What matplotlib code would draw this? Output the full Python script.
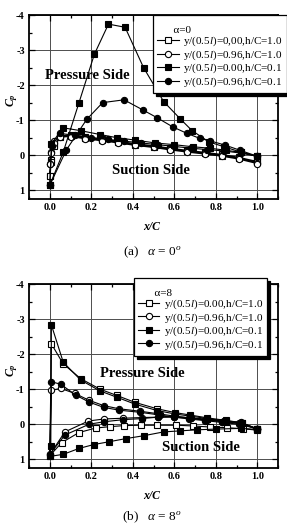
import numpy as np
import matplotlib
matplotlib.use("Agg")
import matplotlib.pyplot as plt
from matplotlib.ticker import MultipleLocator

plt.rcParams['font.family'] = ['Liberation Serif', 'DejaVu Serif']
plt.rcParams['mathtext.fontset'] = 'custom'
plt.rcParams['mathtext.rm'] = 'Liberation Serif'
plt.rcParams['mathtext.it'] = 'Liberation Serif:italic'
plt.rcParams['mathtext.bf'] = 'Liberation Serif:italic:bold'

# ---------------- data: alpha = 0 ----------------
a0_os_up_x = [0.0, 0.005, 0.02, 0.05, 0.1, 0.17, 0.25, 0.33, 0.41, 0.5, 0.58, 0.66, 0.75, 0.83, 0.91, 1.0]
a0_os_up_cp = [0.6, 0.15, -0.3, -0.55, -0.58, -0.53, -0.46, -0.4, -0.33, -0.27, -0.2, -0.14, -0.08, -0.02, 0.06, 0.18]
a0_os_lo_x = [0.0, 0.005, 0.02, 0.05, 0.1, 0.17, 0.25, 0.33, 0.41, 0.5, 0.58, 0.66, 0.75, 0.83, 0.91, 1.0]
a0_os_lo_cp = [0.6, 0.2, -0.25, -0.52, -0.55, -0.5, -0.43, -0.37, -0.3, -0.24, -0.17, -0.11, -0.05, 0.01, 0.09, 0.2]

a0_oc_up_x = [0.0, 0.005, 0.02, 0.05, 0.1, 0.17, 0.25, 0.33, 0.41, 0.5, 0.58, 0.66, 0.75, 0.83, 0.91, 1.0]
a0_oc_up_cp = [0.25, -0.1, -0.4, -0.55, -0.56, -0.5, -0.44, -0.38, -0.31, -0.25, -0.18, -0.12, -0.06, 0.0, 0.08, 0.22]
a0_oc_lo_x = [0.0, 0.005, 0.02, 0.05, 0.1, 0.17, 0.25, 0.33, 0.41, 0.5, 0.58, 0.66, 0.75, 0.83, 0.91, 1.0]
a0_oc_lo_cp = [0.25, -0.05, -0.36, -0.52, -0.53, -0.47, -0.41, -0.35, -0.28, -0.22, -0.15, -0.09, -0.03, 0.03, 0.11, 0.24]

a0_fs_up_x = [0.0, 0.065, 0.14, 0.215, 0.283, 0.363, 0.452, 0.549, 0.63, 0.686, 0.767, 0.84, 0.92, 1.0]
a0_fs_up_cp = [0.86, -0.09, -1.48, -2.88, -3.74, -3.65, -2.5, -1.53, -1.03, -0.7, -0.38, -0.24, -0.09, 0.03]
a0_fs_lo_x = [0.0, 0.008, 0.065, 0.149, 0.242, 0.323, 0.412, 0.508, 0.6, 0.69, 0.77, 0.85, 0.92, 1.0]
a0_fs_lo_cp = [0.86, -0.33, -0.78, -0.7, -0.59, -0.5, -0.43, -0.35, -0.3, -0.24, -0.2, -0.14, -0.08, 0.03]

a0_fc_up_x = [0.0, 0.08, 0.178, 0.255, 0.358, 0.449, 0.517, 0.592, 0.662, 0.723, 0.772, 0.844, 0.917, 1.0]
a0_fc_up_cp = [0.86, -0.15, -1.02, -1.5, -1.58, -1.29, -1.07, -0.81, -0.62, -0.48, -0.41, -0.29, -0.14, 0.03]
a0_fc_lo_x = [0.0, 0.01, 0.048, 0.121, 0.2, 0.28, 0.36, 0.44, 0.52, 0.6, 0.68, 0.76, 0.84, 0.92, 1.0]
a0_fc_lo_cp = [0.86, -0.25, -0.62, -0.57, -0.5, -0.45, -0.4, -0.35, -0.3, -0.25, -0.2, -0.16, -0.12, -0.06, 0.03]

# ---------------- data: alpha = 8 ----------------
a8_os_up_x = [0.008, 0.065, 0.149, 0.242, 0.323, 0.412, 0.517, 0.605, 0.678, 0.76, 0.847, 0.928, 1.0]
a8_os_up_cp = [-2.29, -1.72, -1.3, -1.0, -0.82, -0.62, -0.44, -0.33, -0.26, -0.18, -0.11, -0.04, 0.15]
a8_os_lo_x = [0.0, 0.057, 0.14, 0.221, 0.29, 0.36, 0.44, 0.517, 0.61, 0.69, 0.77, 0.855, 0.93, 1.0]
a8_os_lo_cp = [0.9, 0.53, 0.24, 0.11, 0.07, 0.04, 0.03, 0.03, 0.03, 0.05, 0.08, 0.1, 0.13, 0.17]

a8_oc_up_x = [0.008, 0.053, 0.12, 0.19, 0.26, 0.334, 0.434, 0.533, 0.6, 0.67, 0.75, 0.83, 0.91, 1.0]
a8_oc_up_cp = [-0.97, -1.02, -0.88, -0.68, -0.53, -0.44, -0.37, -0.29, -0.23, -0.18, -0.12, -0.07, -0.02, 0.13]
a8_oc_lo_x = [0.0, 0.073, 0.186, 0.263, 0.355, 0.444, 0.52, 0.6, 0.68, 0.76, 0.84, 0.92, 1.0]
a8_oc_lo_cp = [0.87, 0.22, -0.09, -0.15, -0.17, -0.19, -0.2, -0.2, -0.17, -0.13, -0.09, -0.04, 0.13]

a8_fs_up_x = [0.008, 0.065, 0.149, 0.242, 0.323, 0.412, 0.517, 0.605, 0.678, 0.76, 0.847, 0.928, 1.0]
a8_fs_up_cp = [-2.83, -1.77, -1.26, -0.95, -0.77, -0.57, -0.39, -0.29, -0.23, -0.16, -0.09, -0.02, 0.15]
a8_fs_lo_x = [0.005, 0.0, 0.065, 0.142, 0.213, 0.287, 0.368, 0.452, 0.549, 0.63, 0.71, 0.8, 0.92, 1.0]
a8_fs_lo_cp = [0.63, 0.92, 0.86, 0.69, 0.58, 0.5, 0.41, 0.33, 0.22, 0.19, 0.16, 0.14, 0.12, 0.15]

a8_fc_up_x = [0.008, 0.053, 0.125, 0.19, 0.26, 0.334, 0.434, 0.533, 0.6, 0.67, 0.75, 0.83, 0.91, 1.0]
a8_fc_up_cp = [-1.21, -1.14, -0.83, -0.63, -0.48, -0.4, -0.34, -0.26, -0.2, -0.15, -0.1, -0.05, 0.0, 0.13]
a8_fc_lo_x = [0.0, 0.073, 0.19, 0.263, 0.355, 0.444, 0.52, 0.6, 0.68, 0.76, 0.84, 0.92, 1.0]
a8_fc_lo_cp = [0.86, 0.31, 0.0, -0.07, -0.13, -0.16, -0.2, -0.22, -0.18, -0.14, -0.1, -0.05, 0.13]

labels_a0 = [r"y/(0.5$l$)=0,00,h/C=1.0", r"y/(0.5$l$)=0.96,h/C=1.0",
             r"y/(0.5$l$)=0.00,h/C=0.1", r"y/(0.5$l$)=0.96,h/C=0.1"]
labels_a8 = [r"y/(0.5$l$)=0.00,h/C=1.0", r"y/(0.5$l$)=0.96,h/C=1.0",
             r"y/(0.5$l$)=0.00,h/C=0.1", r"y/(0.5$l$)=0.96,h/C=0.1"]
xticks = [0.0, 0.2, 0.4, 0.6, 0.8, 1.0]
yticks = [-4, -3, -2, -1, 0, 1]

styles = [dict(marker='s', mfc='white'), dict(marker='o', mfc='white'),
          dict(marker='s', mfc='black'), dict(marker='o', mfc='black')]


def loop(ux, ucp, lx, lcp):
    return list(reversed(ux)) + list(lx), list(reversed(ucp)) + list(lcp)


fig = plt.figure(figsize=(2.87, 5.26), dpi=100)
ax1 = fig.add_axes([29/287, 1-199/526, 249/287, 184/526])
ax2 = fig.add_axes([29/287, 1-468/526, 249/287, 184/526])


def setup(ax):
    ax.set_xlim(-0.1, 1.1)
    ax.set_ylim(1.25, -4)
    ax.set_xticks(xticks)
    ax.set_xticklabels([f"{v:.1f}" for v in xticks], fontweight='bold', fontsize=7.5)
    ax.set_yticks(yticks)
    ax.set_yticklabels([str(v) for v in yticks], fontweight='bold', fontsize=7.5)
    ax.xaxis.set_minor_locator(MultipleLocator(0.1))
    ax.yaxis.set_minor_locator(MultipleLocator(0.5))
    ax.tick_params(which='both', direction='in', top=True, right=True, width=0.9)
    ax.tick_params(which='major', length=4, pad=3)
    ax.tick_params(which='minor', length=2)
    ax.grid(True, which='major', color='0.3', lw=0.7)
    ax.set_axisbelow(True)
    for s in ax.spines.values():
        s.set_linewidth(1.3)


def draw(ax, series, labels):
    hs = []
    for (ux, ucp, lx, lcp), st, lab in zip(series, styles, labels):
        x, cp = loop(ux, ucp, lx, lcp)
        h, = ax.plot(x, cp, color='black', lw=0.8, ms=4.5, mec='black', mew=0.8,
                     label=lab, **st)
        hs.append(h)
    return hs


setup(ax1)
setup(ax2)

s0 = [(a0_os_up_x, a0_os_up_cp, a0_os_lo_x, a0_os_lo_cp),
      (a0_oc_up_x, a0_oc_up_cp, a0_oc_lo_x, a0_oc_lo_cp),
      (a0_fs_up_x, a0_fs_up_cp, a0_fs_lo_x, a0_fs_lo_cp),
      (a0_fc_up_x, a0_fc_up_cp, a0_fc_lo_x, a0_fc_lo_cp)]
s8 = [(a8_os_up_x, a8_os_up_cp, a8_os_lo_x, a8_os_lo_cp),
      (a8_oc_up_x, a8_oc_up_cp, a8_oc_lo_x, a8_oc_lo_cp),
      (a8_fs_up_x, a8_fs_up_cp, a8_fs_lo_x, a8_fs_lo_cp),
      (a8_fc_up_x, a8_fc_up_cp, a8_fc_lo_x, a8_fc_lo_cp)]

draw(ax1, s0, labels_a0)
draw(ax2, s8, labels_a8)

leg_kw = dict(loc='upper left', borderaxespad=0, fontsize=8, title_fontsize=8,
              handlelength=1.9, handletextpad=0.4, labelspacing=0.0,
              borderpad=0.4, frameon=True, fancybox=False, framealpha=1,
              edgecolor='black',
              shadow={'color': 'black', 'alpha': 1, 'ox': 2.2, 'oy': -2.2})
lg1 = ax1.legend(bbox_to_anchor=(0.498, 1.0), title="\n      α=0", **leg_kw)
lg2 = ax2.legend(bbox_to_anchor=(0.42, 1.033), title="\n      α=8", **leg_kw)
for lg in (lg1, lg2):
    lg._legend_box.align = "left"
    lg.get_title().set_linespacing(0.6)
    lg.get_frame().set_linewidth(0.9)
    lg.set_zorder(10)

tk = dict(fontsize=10.5, fontweight='bold', ha='center', va='center')
ax1.text(0.18, -2.26, "Pressure Side", **tk)
ax1.text(0.49, 0.43, "Suction Side", **tk)
ax2.text(0.445, -1.46, "Pressure Side", **tk)
ax2.text(0.73, 0.66, "Suction Side", **tk)

for yc, yx, ycap, cap in [(100, 227, 252, r"(a)   $\alpha$ = 0$^{o}$"),
                          (370, 496, 517, r"(b)   $\alpha$ = 8$^{o}$")]:
    fig.text(12/287, 1-yc/526, r"$\mathbf{C_p}$", rotation=90, ha='center', va='center', fontsize=8.5)
    fig.text(152/287, 1-yx/526, "x/C", fontstyle='italic', fontweight='bold',
             ha='center', va='center', fontsize=8.5)
    fig.text(152/287, 1-ycap/526, cap, ha='center', va='center', fontsize=9.5)

fig.savefig("out.png", dpi=100)
